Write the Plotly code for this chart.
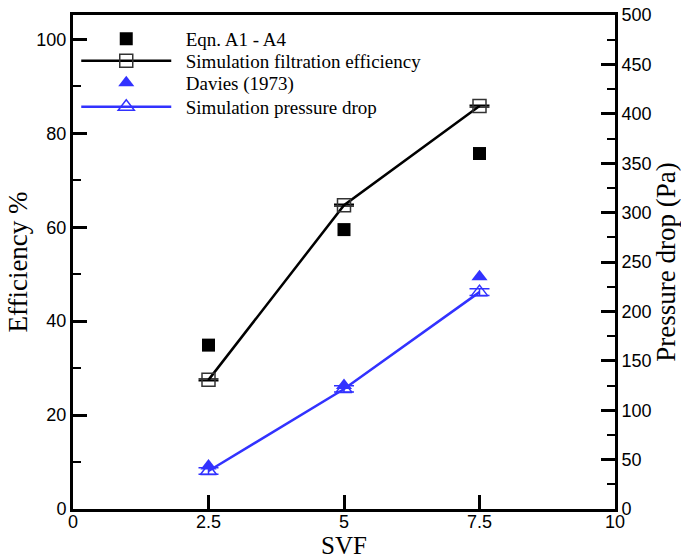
import plotly.graph_objects as go

svf = [2.5, 5.0, 7.5]
eqn_eff = [34.9, 59.5, 75.7]
sim_eff = [27.5, 64.7, 85.8]
sim_eff_err = [0.2, 0.2, 0.2]
davies_dp = [43.5, 125.0, 235.0]
sim_dp = [38.5, 121.5, 219.5]
sim_dp_err = [3.3, 3.2, 3.4]

x_ticks = [0, 2.5, 5, 7.5, 10]
x_tick_labels = ["0", "2.5", "5", "7.5", "10"]

BLUE = "#3232FF"
SERIF = "Liberation Serif"
SANS = "Liberation Sans"
PAD = "\u00a0\u00a0"

fig = go.Figure()
fig.add_trace(go.Scatter(
    x=svf, y=eqn_eff, mode="markers", name=PAD + "Eqn. A1 - A4", legend="legend",
    marker=dict(symbol="square", size=13, color="black"),
))
fig.add_trace(go.Scatter(
    x=svf, y=sim_eff, mode="lines+markers", name=PAD + "Simulation filtration efficiency",
    legend="legend2",
    line=dict(color="black", width=2.5),
    marker=dict(symbol="square-open", size=13, color="#333333", line=dict(width=1.5)),
    error_y=dict(type="data", array=sim_eff_err, color="black", thickness=1.5, width=10),
))
fig.add_trace(go.Scatter(
    x=svf, y=davies_dp, mode="markers", name=PAD + "Davies (1973)", yaxis="y2", legend="legend3",
    marker=dict(symbol="triangle-up", size=14, color=BLUE),
))
fig.add_trace(go.Scatter(
    x=svf, y=sim_dp, mode="lines+markers", name=PAD + "Simulation pressure drop", yaxis="y2",
    legend="legend4",
    line=dict(color=BLUE, width=2.5),
    marker=dict(symbol="triangle-up-open", size=14, color=BLUE, line=dict(width=1.5)),
    error_y=dict(type="data", array=sim_dp_err, color=BLUE, thickness=1.5, width=10),
))

def leg(yc):
    return dict(
        x=0.006, y=yc, xanchor="left", yanchor="middle",
        font=dict(family=SERIF, size=19, color="black"),
        bgcolor="rgba(0,0,0,0)", itemwidth=90,
    )

fig.update_layout(
    width=681, height=559,
    margin=dict(l=73, r=66, t=15, b=50, autoexpand=False),
    paper_bgcolor="white", plot_bgcolor="white",
    showlegend=True,
    legend=leg(0.9514),
    legend2=leg(0.9069),
    legend3=leg(0.8623),
    legend4=leg(0.8138),
    xaxis=dict(
        range=[0, 10], tickmode="array", tickvals=x_ticks, ticktext=x_tick_labels,
        ticks="inside", ticklen=14, tickwidth=3, tickcolor="black",
        showline=True, linewidth=3, linecolor="black", mirror=True,
        showgrid=False, zeroline=False, automargin=False, ticklabelstandoff=-6,
        tickfont=dict(family=SANS, size=18, color="black"),
        title=dict(text="SVF", font=dict(family=SERIF, size=25, color="black"), standoff=9),
    ),
    yaxis=dict(
        range=[0, 105.2], tickmode="linear", tick0=0, dtick=20,
        ticks="inside", ticklen=14, tickwidth=3, tickcolor="black",
        minor=dict(ticks="inside", ticklen=8, tickwidth=2, dtick=10, tickcolor="black", showgrid=False),
        showline=True, linewidth=3, linecolor="black",
        showgrid=False, zeroline=False, automargin=False,
        tickfont=dict(family=SANS, size=18, color="black"),
        title=dict(text="Efficiency %", font=dict(family=SERIF, size=27, color="black"), standoff=1),
    ),
    yaxis2=dict(
        range=[0, 500], overlaying="y", side="right", tickmode="linear", tick0=0, dtick=50,
        ticks="inside", ticklen=14, tickwidth=3, tickcolor="black",
        minor=dict(ticks="inside", ticklen=8, tickwidth=2, dtick=25, tickcolor="black", showgrid=False),
        showline=True, linewidth=3, linecolor="black",
        showgrid=False, zeroline=False, automargin=False,
        tickfont=dict(family=SANS, size=18, color="black"),
        title=dict(text="Pressure drop (Pa)", font=dict(family=SERIF, size=27, color="black"), standoff=2),
    ),
)

fig.write_html("out.html")
